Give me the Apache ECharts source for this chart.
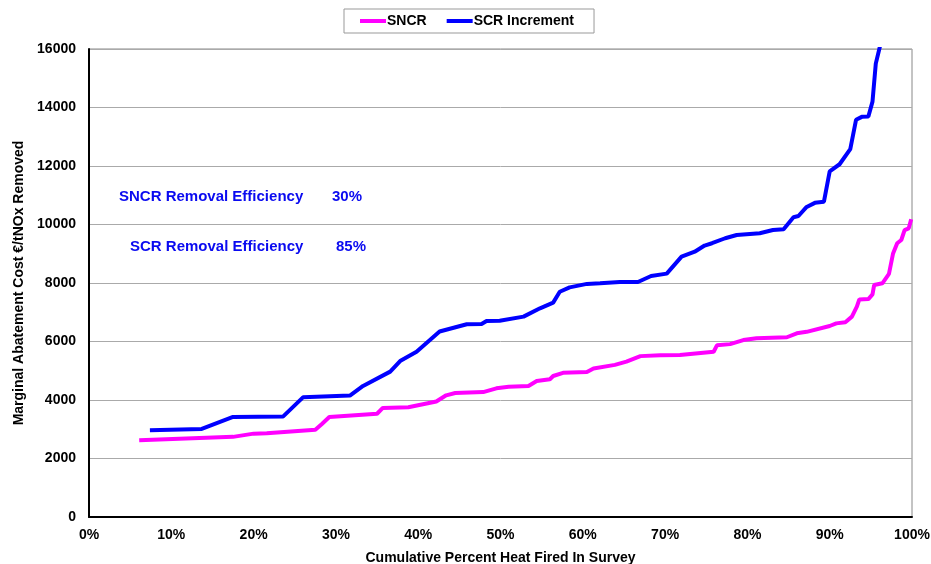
<!DOCTYPE html>
<html lang="en">
<head>
    <meta charset="UTF-8">
    <title>Marginal Abatement Cost</title>
    <script src="https://cdn.jsdelivr.net/npm/echarts@6/dist/echarts.min.js"></script>
</head>
<body style="margin:0;background:#fff">
    <div id="main" style="width: 931px;height: 564px;"></div>
    <script>
        var chart = echarts.init(document.getElementById('main'));

        // cumulative % heat fired vs marginal cost (€/t NOx)
        var sncrPct = [6.1, 17.5, 20.0, 21.6, 27.5, 28.3, 29.2, 35.0, 35.7, 38.8, 42.2, 43.4, 44.5, 47.9, 49.5, 51.0,
            53.4, 54.4, 56.0, 56.4, 57.6, 60.5, 61.3, 63.9, 65.3, 67.0, 69.4, 71.8, 75.9, 76.3, 77.9, 79.5, 81.1,
            84.8, 86.0, 87.2, 90.0, 90.8, 91.9, 92.7, 93.3, 93.6, 94.7, 95.2, 95.4, 96.4, 97.2, 97.7, 98.2, 98.7,
            99.1, 99.6, 99.9];
        var sncrCost = [2620, 2740, 2850, 2860, 2980, 3180, 3420, 3530, 3730, 3750, 3950, 4160, 4240, 4270, 4400, 4450,
            4480, 4650, 4710, 4820, 4930, 4960, 5080, 5200, 5310, 5500, 5530, 5540, 5650, 5870, 5910, 6050, 6110,
            6145, 6280, 6330, 6530, 6620, 6660, 6850, 7190, 7440, 7450, 7610, 7930, 7990, 8310, 9010, 9360, 9470,
            9810, 9870, 10180];

        var scrPct = [7.4, 13.7, 17.5, 23.6, 26.0, 31.7, 33.3, 36.6, 37.8, 39.8, 42.6, 45.9, 47.7, 48.3, 49.9, 52.8,
            54.8, 56.4, 57.2, 58.4, 60.5, 62.1, 64.5, 66.7, 68.3, 70.2, 72.0, 73.6, 74.8, 75.7, 77.3, 78.7, 81.5,
            83.1, 84.4, 85.6, 86.2, 87.2, 88.2, 89.3, 90.0, 91.2, 92.5, 93.2, 93.9, 94.7, 95.2, 95.6, 96.2];
        var scrCost = [2970, 3010, 3420, 3440, 4090, 4150, 4480, 4970, 5330, 5650, 6340, 6590, 6600, 6700, 6710, 6850,
            7135, 7330, 7700, 7850, 7970, 7990, 8035, 8035, 8240, 8320, 8900, 9070, 9280, 9360, 9530, 9640, 9700,
            9810, 9840, 10250, 10290, 10600, 10740, 10780, 11820, 12060, 12580, 13580, 13680, 13690, 14200, 15500, 16200];

        var xTicks = [0, 10, 20, 30, 40, 50, 60, 70, 80, 90, 100];

        function pairs(xs, ys) {
            var out = [];
            for (var i = 0; i < xs.length; i++) out.push([xs[i], ys[i]]);
            return out;
        }

        var font = '"Liberation Sans", Arial, sans-serif';
        var noteColor = '#0a0af0';

        function note(text, x, y) {
            return {
                type: 'text', left: x, top: y,
                style: { text: text, fill: noteColor, fontFamily: font, fontWeight: 'bold', fontSize: 15 }
            };
        }

        var option = {
            animation: false,
            legend: {
                top: 9,
                left: 344,
                padding: [5, 20, 5, 16],
                itemWidth: 26,
                itemHeight: 4,
                itemGap: 20,
                borderColor: '#999',
                borderWidth: 1,
                textStyle: { fontFamily: font, fontWeight: 'bold', fontSize: 14, color: '#000', padding: [0, 0, 0, -4] },
                data: [
                    { name: 'SNCR', icon: 'rect' },
                    { name: 'SCR Increment', icon: 'rect' }
                ]
            },
            grid: {
                left: 89, right: 19, top: 49, bottom: 47,
                outerBoundsMode: 'none',
                containLabel: false,
                show: true,
                borderColor: '#888',
                borderWidth: 1
            },
            xAxis: {
                type: 'value',
                min: 0, max: 100, interval: 10,
                name: 'Cumulative Percent Heat Fired In Survey',
                nameLocation: 'middle',
                nameGap: 34,
                nameMoveOverlap: false,
                nameTextStyle: { fontFamily: font, fontWeight: 'bold', fontSize: 14, color: '#000' },
                axisLine: { lineStyle: { color: '#000', width: 2 } },
                axisTick: { show: false },
                splitLine: { show: false },
                axisLabel: {
                    margin: 11,
                    fontFamily: font, fontWeight: 'bold', fontSize: 14, color: '#000',
                    formatter: function (v) { return xTicks.indexOf(v) >= 0 ? v + '%' : ''; }
                }
            },
            yAxis: {
                type: 'value',
                min: 0, max: 16000, interval: 2000,
                name: 'Marginal Abatement Cost €/tNOx Removed',
                nameLocation: 'middle',
                nameGap: 63,
                nameMoveOverlap: false,
                nameTextStyle: { fontFamily: font, fontWeight: 'bold', fontSize: 14, color: '#000' },
                axisLine: { show: true, lineStyle: { color: '#000', width: 2 } },
                axisTick: { show: false },
                splitLine: { lineStyle: { color: '#aaa', width: 1 } },
                axisLabel: {
                    margin: 13, fontFamily: font, fontWeight: 'bold', fontSize: 14, color: '#000',
                    formatter: function (v) { return String(v); }
                }
            },
            graphic: [
                note('SNCR Removal Efficiency', 119, 189),
                note('30%', 332, 189),
                note('SCR Removal Efficiency', 130, 239),
                note('85%', 336, 239)
            ],
            series: [
                {
                    name: 'SNCR',
                    type: 'line',
                    showSymbol: false,
                    symbol: 'none',
                    color: '#ff00ff',
                    lineStyle: { width: 4, color: '#ff00ff' },
                    data: pairs(sncrPct, sncrCost)
                },
                {
                    name: 'SCR Increment',
                    type: 'line',
                    showSymbol: false,
                    symbol: 'none',
                    clip: true,
                    color: '#0000ff',
                    lineStyle: { width: 4, color: '#0000ff' },
                    data: pairs(scrPct, scrCost)
                }
            ]
        };
        chart.setOption(option);
    </script>
</body>
</html>
